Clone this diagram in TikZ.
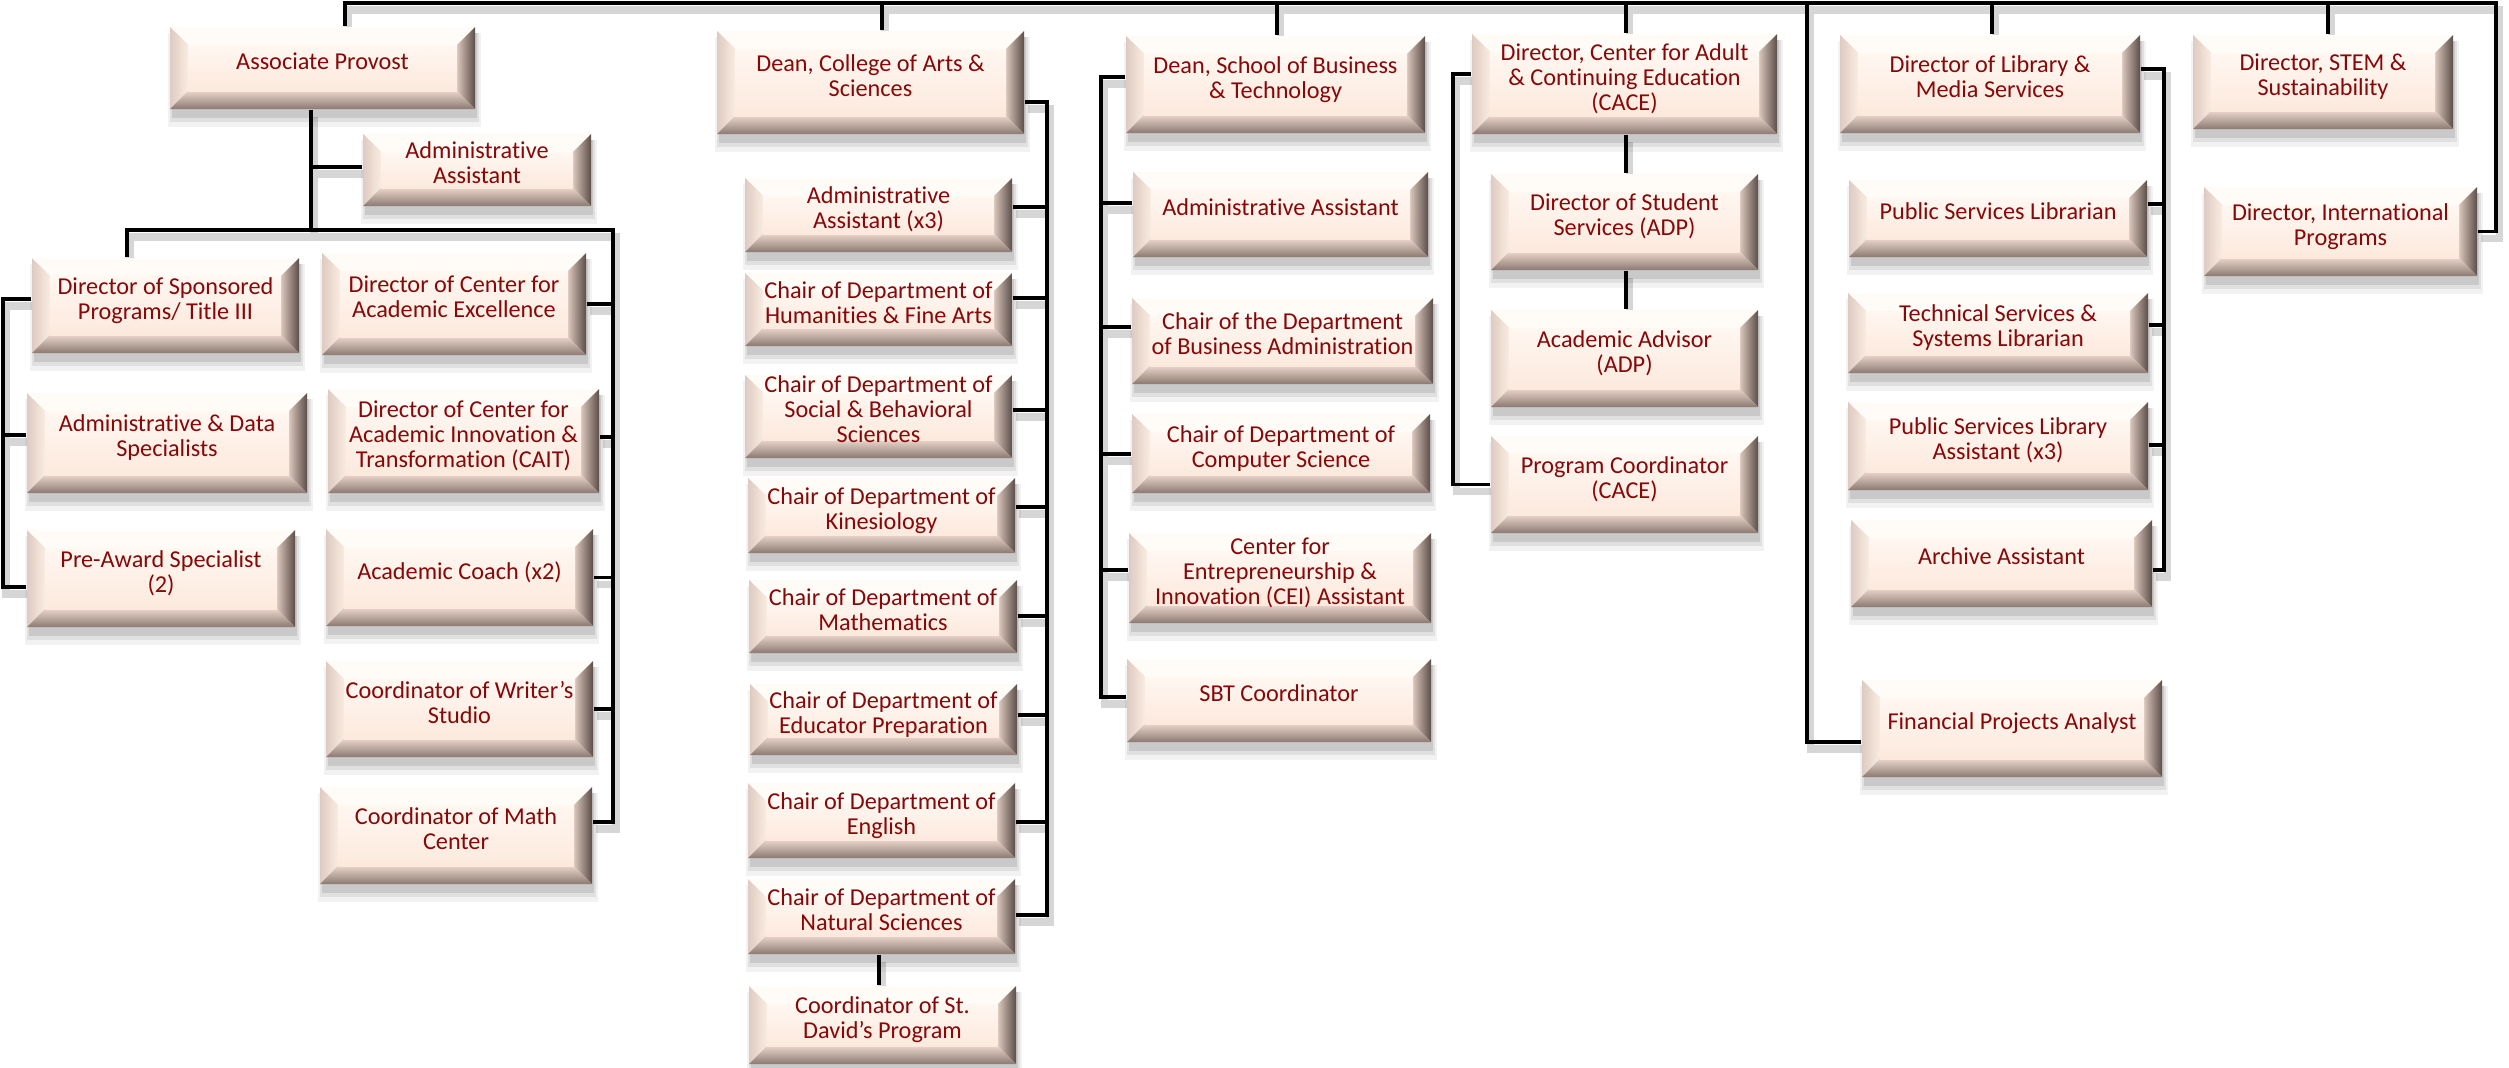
\documentclass[tikz,border=0pt]{standalone}
\usepackage{fontspec}
\newfontfamily\carl[Ligatures=NoCommon]{Carlito}
\usetikzlibrary{backgrounds}
\definecolor{txtred}{RGB}{135,8,8}
\definecolor{faceA}{RGB}{255,247,241}
\definecolor{faceB}{RGB}{252,233,221}
\definecolor{bevT}{RGB}{255,251,247}
\definecolor{bevLa}{RGB}{222,202,192}
\definecolor{bevLb}{RGB}{250,236,226}
\definecolor{bevRa}{RGB}{92,78,72}
\definecolor{bevRb}{RGB}{218,198,188}
\definecolor{bevBa}{RGB}{140,122,114}
\definecolor{bevBb}{RGB}{232,212,202}
\tikzset{
  boxtext/.style={inner sep=0pt, align=center, text=txtred,
    font=\carl\fontsize{6.9}{7.1}\selectfont, text depth=4pt},
  conn/.style={line width=1.1pt, black}
}
\newcommand\orgbox[6]{%
  \fill[black, opacity=0.10] (#2+2,#3+6) rectangle (#4+2,#5+9);
  \fill[black, opacity=0.07] (#2,#3+6) rectangle (#4+4,#5+13);
  \fill[black, opacity=0.05] (#2-2,#3+6) rectangle (#4+6,#5+18);
  \fill[bevT] (#2,#3) -- (#4,#3) -- (#4-18,#3+18) -- (#2+18,#3+18) -- cycle;
  \shade[left color=bevLa, right color=bevLb] (#2,#3) -- (#2+18,#3+18) -- (#2+18,#5-18) -- (#2,#5) -- cycle;
  \shade[left color=bevRb, right color=bevRa] (#4,#3) -- (#4,#5) -- (#4-18,#5-18) -- (#4-18,#3+18) -- cycle;
  \shade[top color=bevBb, bottom color=bevBa] (#2,#5) -- (#2+18,#5-18) -- (#4-18,#5-18) -- (#4,#5) -- cycle;
  \shade[top color=faceA, bottom color=faceB] (#2+18,#3+18) rectangle (#4-18,#5-18);
  \node[boxtext, minimum width={(#4-#2)*0.1mm}, minimum height={(#5-#3)*0.1mm}] (#1) at ({(#2+#4)/2},{(#3+#5)/2}) {#6};
}
\newcommand\allconns{%
  % top bus
  \draw[conn] (345,0 |- ap.north) -- (345,3) -- (2496,3) |- (intl.east);
  \draw[conn] (882,3) -- (882,0 |- cas.north);
  \draw[conn] (1277,3) -- (1277,0 |- sbt.north);
  \draw[conn] (1626,3) -- (1626,0 |- cace.north);
  \draw[conn] (1992,3) -- (1992,0 |- lib.north);
  \draw[conn] (2328,3) -- (2328,0 |- stem.north);
  \draw[conn] (1807,3) |- (fin.west |- 0,742);
  % associate provost
  \draw[conn] (311,0 |- ap.south) -- (311,230);
  \draw[conn] (311,167) -- (apaa.west |- 0,167);
  \draw[conn] (127,0 |- dsp.north) |- (613,230) -- (613,822) -- (math.east |- 0,822);
  \draw[conn] (dcae.east) -- (613,0 |- dcae.east);
  \draw[conn] (cait.east |- 0,437) -- (613,437);
  \draw[conn] (coach.east) -- (613,0 |- coach.east);
  \draw[conn] (writ.east) -- (613,0 |- writ.east);
  \draw[conn] (dsp.west |- 0,299) -- (3,299) -- (3,587) -- (pre.west |- 0,587);
  \draw[conn] (3,435) -- (ads.west |- 0,435);
  % arts & sciences
  \draw[conn] (cas.east |- 0,102) -- (1047,102) -- (1047,915) -- (nat.east |- 0,915);
  \foreach \nm/\yy in {casaa/207,hum/298,soc/410,kin/507,mat/616,edu/715,eng/822}
    {\draw[conn] (\nm.east |- 0,\yy) -- (1047,\yy);}
  \draw[conn] (879,0 |- nat.south) -- (879,0 |- dav.north);
  % business
  \draw[conn] (sbt.west |- 0,77) -- (1101,77) -- (1101,697) -- (sbtc.west |- 0,697);
  \foreach \nm/\yy in {sbtaa/203,busad/327,cs/454,cei/570}
    {\draw[conn] (\nm.west |- 0,\yy) -- (1101,\yy);}
  % CACE
  \draw[conn] (cace.west |- 0,74) -- (1453,74) |- (pc.west);
  \draw[conn] (1626,0 |- cace.south) -- (1626,0 |- dss.north);
  \draw[conn] (1626,0 |- dss.south) -- (1626,0 |- adv.north);
  % library
  \draw[conn] (lib.east |- 0,69) -- (2164,69) -- (2164,570) -- (arch.east |- 0,570);
  \foreach \nm/\yy in {psl/204,tech/325,psla/445}
    {\draw[conn] (\nm.east |- 0,\yy) -- (2164,\yy);}
}
\begin{document}
\begin{tikzpicture}[x=0.1mm, y=-0.1mm]
\useasboundingbox (0,0) rectangle (2509,1067);
% Associate Provost group
\orgbox{ap}{170}{27}{475}{109}{Associate Provost}
\orgbox{apaa}{363}{134}{591}{206}{Administrative\\Assistant}
\orgbox{dsp}{32}{258}{299}{353}{Director of Sponsored\\Programs/ Title III}
\orgbox{dcae}{322}{253}{586}{355}{Director of Center for\\Academic Excellence}
\orgbox{ads}{27}{393}{307}{493}{Administrative \& Data\\Specialists}
\orgbox{cait}{328}{389}{599}{493}{Director of Center for\\Academic Innovation \&\\Transformation (CAIT)}
\orgbox{pre}{27}{530}{295}{627}{Pre-Award Specialist\\(2)}
\orgbox{coach}{326}{529}{593}{626}{Academic Coach (x2)}
\orgbox{writ}{326}{661}{593}{757}{Coordinator of Writer’s\\Studio}
\orgbox{math}{320}{787}{592}{884}{Coordinator of Math\\Center}
% Arts & Sciences
\orgbox{cas}{717}{31}{1024}{134}{Dean, College of Arts \&\\Sciences}
\orgbox{casaa}{745}{178}{1012}{252}{Administrative\\Assistant (x3)}
\orgbox{hum}{745}{273}{1012}{346}{Chair of Department of\\Humanities \& Fine Arts}
\orgbox{soc}{745}{375}{1012}{458}{Chair of Department of\\Social \& Behavioral\\Sciences}
\orgbox{kin}{748}{478}{1015}{553}{Chair of Department of\\Kinesiology}
\orgbox{mat}{749}{580}{1017}{653}{Chair of Department of\\Mathematics}
\orgbox{edu}{750}{684}{1017}{755}{Chair of Department of\\Educator Preparation}
\orgbox{eng}{748}{783}{1015}{858}{Chair of Department of\\English}
\orgbox{nat}{748}{879}{1015}{954}{Chair of Department of\\Natural Sciences}
\orgbox{dav}{749}{986}{1016}{1064}{Coordinator of St.\\David’s Program}
% Business & Technology
\orgbox{sbt}{1126}{36}{1425}{133}{Dean, School of Business\\\& Technology}
\orgbox{sbtaa}{1133}{172}{1428}{257}{Administrative Assistant}
\orgbox{busad}{1132}{298}{1433}{384}{Chair of the Department\\of Business Administration}
\orgbox{cs}{1132}{414}{1430}{493}{Chair of Department of\\Computer Science}
\orgbox{cei}{1129}{533}{1431}{623}{Center for\\Entrepreneurship \&\\Innovation (CEI) Assistant}
\orgbox{sbtc}{1127}{659}{1431}{742}{SBT Coordinator}
% CACE
\orgbox{cace}{1472}{34}{1777}{134}{Director, Center for Adult\\\& Continuing Education\\(CACE)}
\orgbox{dss}{1491}{174}{1758}{270}{Director of Student\\Services (ADP)}
\orgbox{adv}{1491}{310}{1758}{407}{Academic Advisor\\(ADP)}
\orgbox{pc}{1491}{436}{1758}{533}{Program Coordinator\\(CACE)}
% Library
\orgbox{lib}{1840}{35}{2140}{133}{Director of Library \&\\Media Services}
\orgbox{psl}{1849}{180}{2147}{257}{Public Services Librarian}
\orgbox{tech}{1848}{293}{2148}{373}{Technical Services \&\\Systems Librarian}
\orgbox{psla}{1848}{402}{2148}{490}{Public Services Library\\Assistant (x3)}
\orgbox{arch}{1851}{520}{2152}{607}{Archive Assistant}
\orgbox{fin}{1862}{680}{2162}{777}{Financial Projects Analyst}
% STEM / International
\orgbox{stem}{2193}{35}{2453}{129}{Director, STEM \&\\Sustainability}
\orgbox{intl}{2204}{187}{2477}{276}{Director, International\\Programs}
\begin{pgfonlayer}{background}
\fill[white] (0,0) rectangle (2509,1067);
\begin{scope}[transform canvas={shift={(3,7)}}, conn/.style={line width=2pt, black!16}]
\allconns
\end{scope}
\allconns
\end{pgfonlayer}
\end{tikzpicture}
\end{document}
